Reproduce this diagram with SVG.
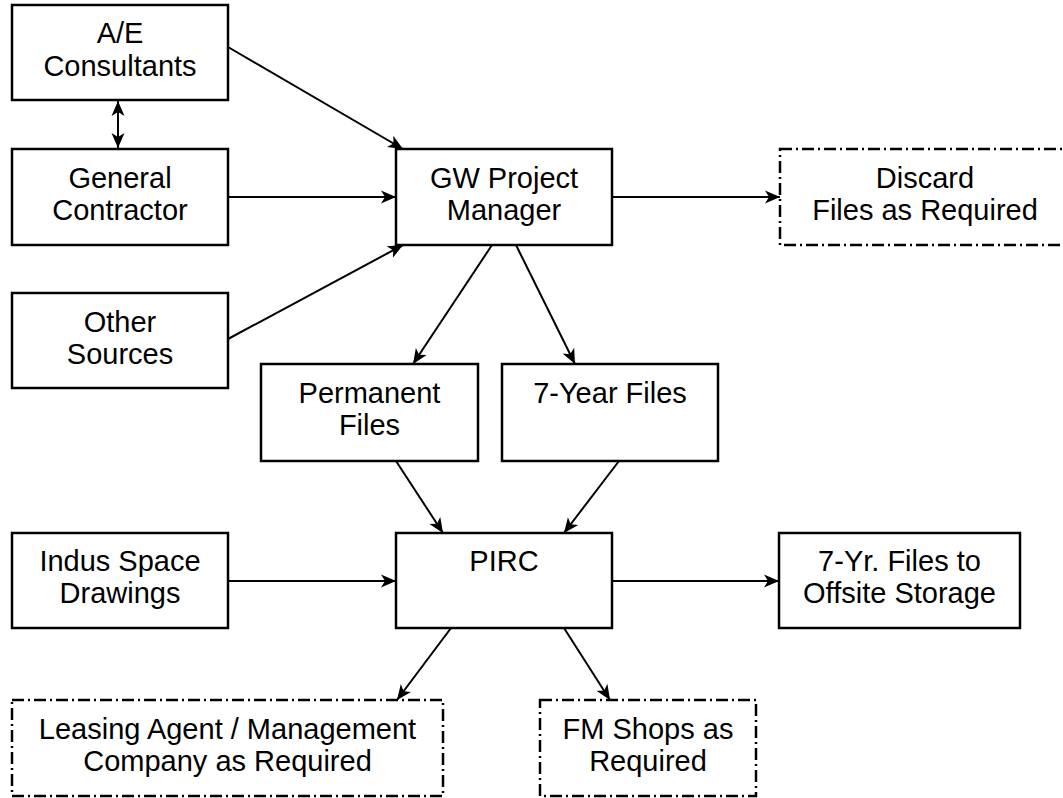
<svg xmlns="http://www.w3.org/2000/svg" width="1063" height="798" viewBox="0 0 1063 798">
<style>
.box{fill:#fff;stroke:#000;stroke-width:2.5}
.dash{fill:#fff;stroke:#000;stroke-width:2.5;stroke-dasharray:12 4 2 4}
.t{font-family:"Liberation Sans",Arial,sans-serif;font-size:29px;fill:#000;text-anchor:middle}
.c{stroke:#000;stroke-width:2;fill:none;marker-end:url(#ah)}
</style>
<defs>
<marker id="ah" markerUnits="userSpaceOnUse" markerWidth="16" markerHeight="14" refX="15" refY="6.5" orient="auto-start-reverse" viewBox="0 0 16 13">
<path d="M0,0 L15,6.5 L0,13 L4,6.5 z" fill="#000"/>
</marker>
</defs>
<rect width="1063" height="798" fill="#fff"/>
<g id="connectors">
<line class="c" x1="228" y1="47" x2="403" y2="149"/>
<line class="c" x1="228" y1="197" x2="396" y2="197"/>
<line class="c" x1="228" y1="339" x2="403" y2="245"/>
<line class="c" x1="612" y1="197" x2="780" y2="197"/>
<line class="c" x1="492" y1="245" x2="413" y2="364"/>
<line class="c" x1="516" y1="245" x2="575" y2="364"/>
<line class="c" x1="396" y1="461" x2="443" y2="533"/>
<line class="c" x1="619" y1="461" x2="564" y2="533"/>
<line class="c" x1="228" y1="581" x2="396" y2="581"/>
<line class="c" x1="612" y1="581" x2="779" y2="581"/>
<line class="c" x1="451" y1="628" x2="397" y2="700"/>
<line class="c" x1="564" y1="628" x2="610" y2="700"/>
<line class="c" x1="118" y1="101" x2="118" y2="148" style="marker-start:url(#ah)"/>
</g>
<g id="ae"><rect class="box" x="12" y="5" width="216" height="95"/><text class="t" x="120" y="43">A/E</text><text class="t" x="120" y="76">Consultants</text></g>
<g id="gc"><rect class="box" x="12" y="149" width="216" height="96"/><text class="t" x="120" y="188">General</text><text class="t" x="120" y="220">Contractor</text></g>
<g id="other"><rect class="box" x="12" y="293" width="216" height="95"/><text class="t" x="120" y="332">Other</text><text class="t" x="120" y="364">Sources</text></g>
<g id="gw"><rect class="box" x="396" y="149" width="216" height="96"/><text class="t" x="504" y="188">GW Project</text><text class="t" x="504" y="220">Manager</text></g>
<g id="discard"><rect class="dash" x="780" y="149" width="290" height="96"/><text class="t" x="925" y="188">Discard</text><text class="t" x="925" y="220">Files as Required</text></g>
<g id="permanent"><rect class="box" x="261" y="364" width="217" height="97"/><text class="t" x="369.5" y="403">Permanent</text><text class="t" x="369.5" y="435">Files</text></g>
<g id="sevenyear"><rect class="box" x="502" y="364" width="216" height="97"/><text class="t" x="610" y="403">7-Year Files</text></g>
<g id="indus"><rect class="box" x="12" y="533" width="216" height="95"/><text class="t" x="120" y="571">Indus Space</text><text class="t" x="120" y="603">Drawings</text></g>
<g id="pirc"><rect class="box" x="396" y="533" width="216" height="95"/><text class="t" x="504" y="571">PIRC</text></g>
<g id="offsite"><rect class="box" x="779" y="533" width="241" height="95"/><text class="t" x="899.5" y="571">7-Yr. Files to</text><text class="t" x="899.5" y="603">Offsite Storage</text></g>
<g id="leasing"><rect class="dash" x="12" y="700" width="431" height="96"/><text class="t" x="227.5" y="739">Leasing Agent / Management</text><text class="t" x="227.5" y="771">Company as Required</text></g>
<g id="fm"><rect class="dash" x="540" y="700" width="216" height="96"/><text class="t" x="648" y="739">FM Shops as</text><text class="t" x="648" y="771">Required</text></g>
</svg>
